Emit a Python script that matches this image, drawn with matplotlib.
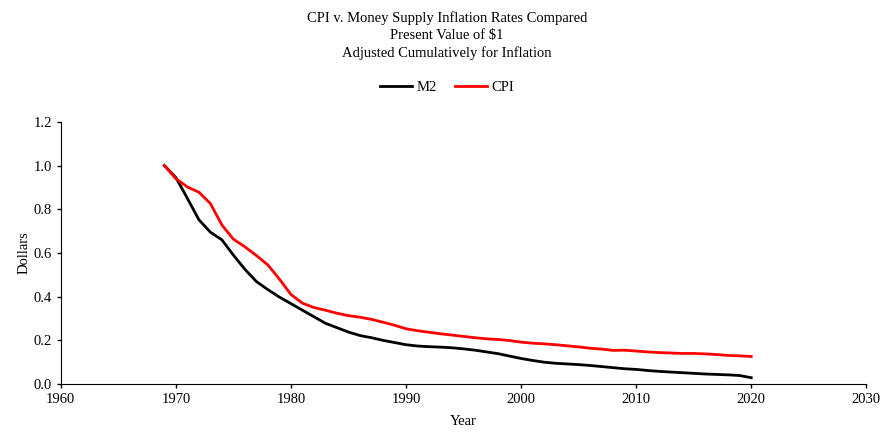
import matplotlib
matplotlib.use("Agg")
import matplotlib.pyplot as plt

plt.rcParams['font.family'] = ['Liberation Serif', 'DejaVu Serif']

# years and present value of $1
years = list(range(1969, 2021))
m2 = [1.000, 0.945, 0.850, 0.752, 0.695, 0.660, 0.590, 0.525, 0.469, 0.432,
      0.398, 0.368, 0.338, 0.308, 0.278, 0.258, 0.238, 0.222, 0.212, 0.200,
      0.190, 0.180, 0.174, 0.171, 0.169, 0.166, 0.161, 0.155, 0.147, 0.139,
      0.128, 0.117, 0.108, 0.100, 0.095, 0.092, 0.089, 0.085, 0.080, 0.075,
      0.070, 0.067, 0.062, 0.058, 0.055, 0.052, 0.049, 0.046, 0.044, 0.042,
      0.039, 0.029]
cpi = [1.000, 0.940, 0.902, 0.878, 0.826, 0.728, 0.663, 0.628, 0.588, 0.545,
       0.480, 0.410, 0.370, 0.350, 0.338, 0.324, 0.313, 0.306, 0.296, 0.283,
       0.269, 0.253, 0.244, 0.237, 0.230, 0.224, 0.218, 0.212, 0.207, 0.204,
       0.199, 0.192, 0.187, 0.184, 0.180, 0.175, 0.170, 0.164, 0.160, 0.154,
       0.155, 0.151, 0.147, 0.144, 0.142, 0.140, 0.140, 0.138, 0.135, 0.131,
       0.129, 0.126]

fig = plt.figure(figsize=(8.94, 4.32), dpi=100)
ax = fig.add_axes([0.068, 0.111, 0.901, 0.607])

ax.plot(years, m2, color='black', lw=2.0, label='M2')
ax.plot(years, cpi, color='#ff0000', lw=2.0, label='CPI')

ax.set_xlim(1960, 2030)
ax.set_ylim(0, 1.2)
ax.set_xticks(range(1960, 2031, 10))
ax.set_yticks([0, 0.2, 0.4, 0.6, 0.8, 1.0, 1.2])
ax.set_yticklabels(['0.0', '0.2', '0.4', '0.6', '0.8', '1.0', '1.2'])
ax.tick_params(labelsize=10.5, direction='out', length=3, width=1, color='black')
ax.spines['top'].set_visible(False)
ax.spines['right'].set_visible(False)

ax.set_xlabel('Year', fontsize=10.5)
ax.set_ylabel('Dollars', fontsize=10.5)
ax.xaxis.set_label_coords(0.5, -0.118)
ax.yaxis.set_label_coords(-0.038, 0.5)

fig.text(0.5, 0.975, 'CPI v. Money Supply Inflation Rates Compared\nPresent Value of $1\nAdjusted Cumulatively for Inflation',
         ha='center', va='top', fontsize=10.5, linespacing=1.4)
fig.legend(loc='center', bbox_to_anchor=(0.5, 0.797), ncol=2, frameon=False,
           fontsize=10.5, handlelength=2.2, columnspacing=1.2, handletextpad=0.3)

fig.savefig('out.png', dpi=100)
